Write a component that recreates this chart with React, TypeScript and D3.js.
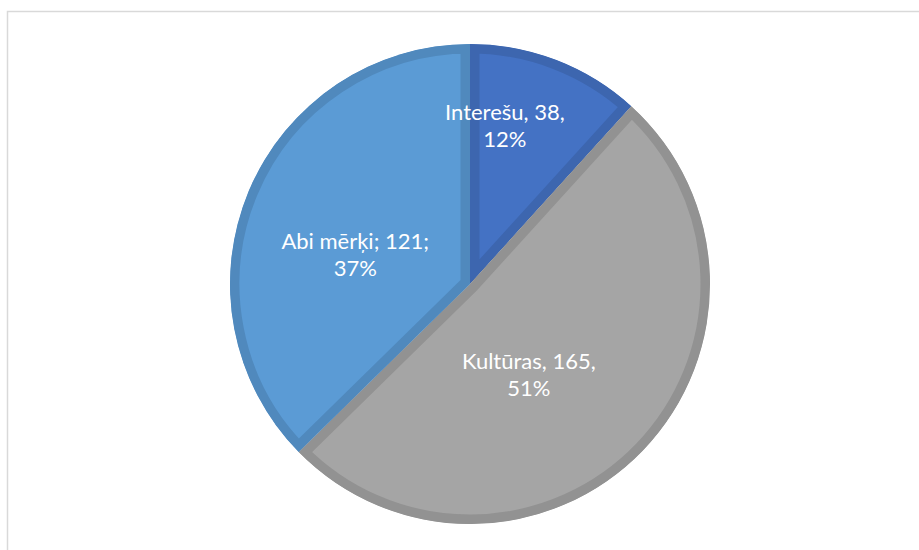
import React from "react";
import * as d3 from "d3";

const categories = ["Interešu", "Kultūras", "Abi mērķi"];
const values = [38, 165, 121];
const percents = ["12%", "51%", "37%"];
const labelFirstLines = ["Interešu, 38,", "Kultūras, 165,", "Abi mērķi; 121;"];

const fills = ["#4472C4", "#A5A5A5", "#5B9BD5"];
const borders = ["#3D66AF", "#929292", "#5089BD"];
// nudges from the arc centroid, like Excel's best-fit placement
const labelNudge = [
  [-17, -24],
  [-45, -9],
  [18, 27],
];

const W = 919;
const H = 550;
const cx = 470;
const cy = 284;
const radius = 240;

const App = () => {
  const pie = d3
    .pie<number>()
    .sort(null)
    .value((d) => d);
  const slices = pie(values);

  const arc = d3.arc<d3.PieArcDatum<number>>().innerRadius(0).outerRadius(radius);
  const labelArc = d3
    .arc<d3.PieArcDatum<number>>()
    .innerRadius(radius * 0.6)
    .outerRadius(radius * 0.6);

  return (
    <svg
      width={W}
      height={H}
      style={{ position: "absolute", left: 0, top: 0, background: "#fff" }}
    >
      <rect x={7.5} y={11.5} width={W + 20} height={H + 20} fill="#fff" stroke="#d9d9d9" strokeWidth={1.5} />
      <defs>
        {slices.map((s, i) => (
          <clipPath id={`clip-${i}`} key={i}>
            <path d={arc(s) || ""} />
          </clipPath>
        ))}
      </defs>
      <g transform={`translate(${cx},${cy})`}>
        {slices.map((s, i) => (
          <path
            key={categories[i]}
            d={arc(s) || ""}
            fill={fills[i]}
            stroke={borders[i]}
            strokeWidth={19}
            clipPath={`url(#clip-${i})`}
          />
        ))}
        {slices.map((s, i) => {
          const [x, y] = labelArc.centroid(s);
          const lx = x + labelNudge[i][0];
          const ly = y + labelNudge[i][1];
          return (
            <text
              key={"l" + i}
              x={lx}
              y={ly}
              textAnchor="middle"
              fill="#fff"
              fontFamily="Lato, 'Open Sans', sans-serif"
              fontSize={22}
            >
              <tspan x={lx} dy={-6}>
                {labelFirstLines[i]}
              </tspan>
              <tspan x={lx} dy={27}>
                {percents[i]}
              </tspan>
            </text>
          );
        })}
      </g>
    </svg>
  );
};

export default App;
